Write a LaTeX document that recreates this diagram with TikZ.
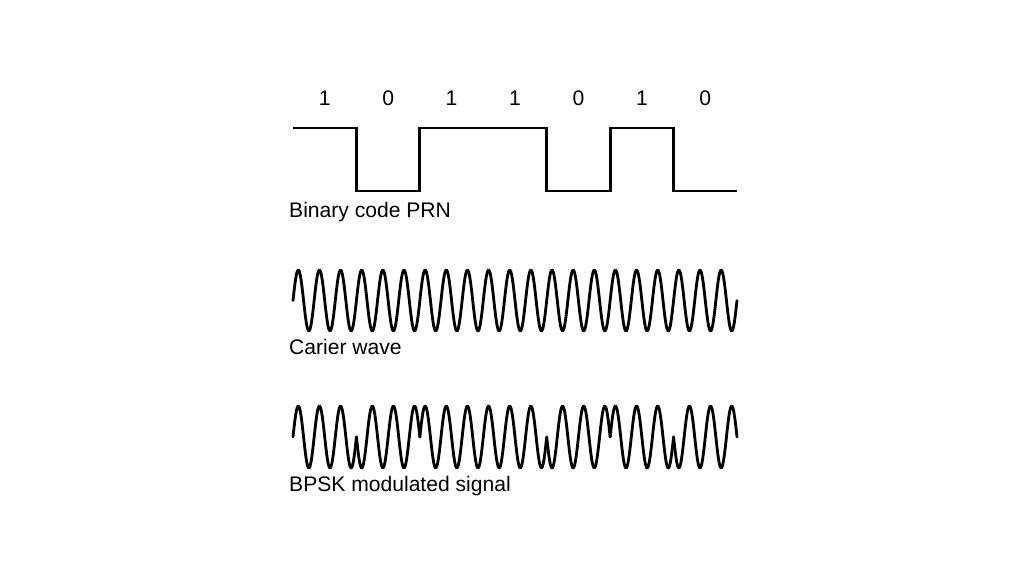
\documentclass[tikz,border=0pt]{standalone}
\usepackage{fontspec}
\setmainfont{Liberation Sans}
\usepackage{tikz}
\usetikzlibrary{positioning}

\begin{document}
\begin{tikzpicture}[
        x=0.03cm, y=-0.03cm,
        sig/.style={line width=2.4pt, line join=round, line cap=round, color=black},
        lbl/.style={anchor=base west, inner sep=0pt, font=\fontsize{18}{21}\selectfont},
        bitlbl/.style={anchor=base, inner sep=0pt, font=\fontsize{18}{21}\selectfont}
      ]
        \useasboundingbox (0,0) rectangle (1024,576);
        % bit width: (737-293)/7
        \def\bw{63.43}
        % bits and BPSK segments
        \foreach \b [count=\i from 0] in {1,0,1,1,0,1,0} {
          \node[bitlbl] (bit\i) at ({293+(\i+0.5)*\bw},105.5) {\b};
          \pgfmathsetmacro{\sgn}{2*\b-1}
          \draw[sig] plot[domain={293+\i*\bw}:{293+(\i+1)*\bw}, samples=90, smooth]
            (\x, {437-\sgn*31*sin((\x-293)/\bw*1080)});
        }
        % PRN code
        \draw[sig, line cap=butt, line join=miter] (293,128) -- (356.43,128) -- (356.43,191) -- (419.86,191)
          -- (419.86,128) -- (546.71,128) -- (546.71,191) -- (610.14,191)
          -- (610.14,128) -- (673.57,128) -- (673.57,191) -- (737,191);
        \node[lbl] (prn) at (289,217) {Binary code PRN};
        % carrier
        \draw[sig] plot[domain=293:737, samples=600, smooth] (\x, {300.5-30.5*sin((\x-293)/\bw*1080)});
        \node[lbl] (carrier) at (289,354) {Carier wave};
        \node[lbl] (bpsk) at (289,491) {BPSK modulated signal};
      \end{tikzpicture}
\end{document}
